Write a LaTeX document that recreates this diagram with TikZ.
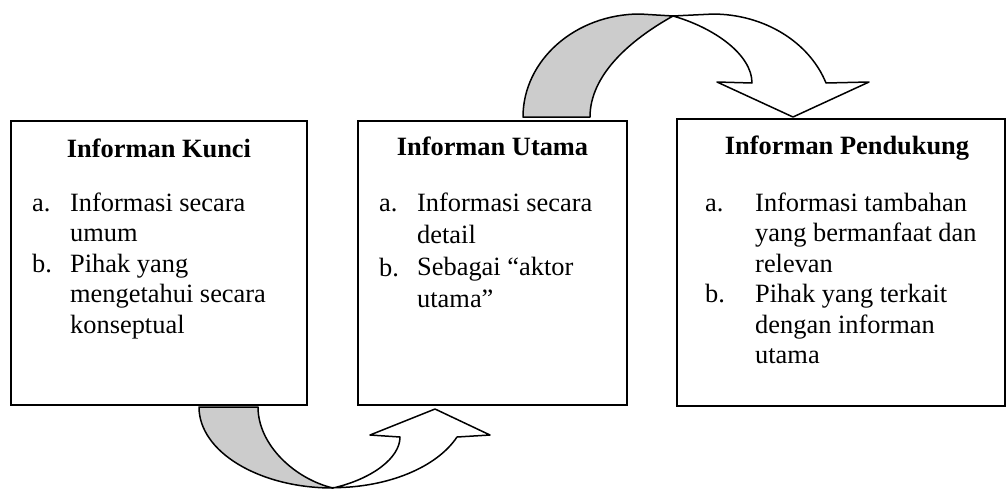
\documentclass[tikz,border=0pt]{standalone}
\usepackage{fontspec}
\setmainfont{Liberation Serif}
\definecolor{tailgray}{gray}{0.8}

\begin{document}
\begin{tikzpicture}
    [x=1pt,y=-1pt,
     box/.style={draw=black,line width=2pt,fill=white,inner sep=0pt},
     title/.style={anchor=base,inner sep=0pt,font=\fontsize{26.4}{30.5}\selectfont\bfseries},
     item/.style={anchor=base west,inner sep=0pt,font=\fontsize{26.4}{30.5}\selectfont},
     back/.style={draw=black,line width=1.5pt,line join=round,fill=tailgray},
     front/.style={draw=black,line width=1.5pt,line join=round,fill=white}]
    \useasboundingbox (0,0) rectangle (1006,488);

    % curved arrow below, from Kunci to Utama
    \draw[back] (199,407) arc[start angle=180,end angle=90,x radius=134,y radius=81]
        .. controls (295,479) and (258,445) .. (258,407) -- cycle;
    \draw[front] (333,488) .. controls (372,479) and (400,458) .. (400,437)
        -- (370,435) -- (435,409) -- (490,435) -- (457,437)
        arc[start angle=22,end angle=90,x radius=134,y radius=81] -- cycle;

    % curved arrow above, from Utama to Pendukung
    \draw[back] (523,117) arc[start angle=180,end angle=270,x radius=117,y radius=103]
        -- (673,16) .. controls (630,40) and (590,75) .. (590,117) -- cycle;
    \draw[front] (673,16) .. controls (715,28) and (752,55) .. (752,83)
        -- (717,82) -- (793,117) -- (869,82) -- (826,83)
        arc[start angle=-19.3,end angle=-90,x radius=120,y radius=103] -- cycle;

    \node[box,minimum width=296pt,minimum height=284pt] (kunci) at (159,263) {};
    \node[box,minimum width=269pt,minimum height=284pt] (utama) at (492.5,263) {};
    \node[box,minimum width=328pt,minimum height=287pt] (pendukung) at (841,262.5) {};

    \node[title] (tkunci) at (159,157) {Informan Kunci};
    \node[title] (tutama) at (492.5,155) {Informan Utama};
    \node[title] (tpendukung) at (847,154) {Informan Pendukung};

    \node[item] (kunci-a) at (32,211) {a.};
    \node[item] (kunci-b) at (32,272) {b.};
    \foreach \txt [count=\i] in {Informasi secara, umum, Pihak yang, mengetahui secara, konseptual}
        \node[item] (kunci-\i) at (70,{211+30.5*(\i-1)}) {\txt};

    \node[item] (utama-a) at (379,211) {a.};
    \node[item] (utama-b) at (379,276) {b.};
    \foreach \txt [count=\i] in {Informasi secara, detail, Sebagai “aktor, utama”}
        \node[item] (utama-\i) at (417,{211+32.3*(\i-1)}) {\txt};

    \node[item] (pendukung-a) at (705,211.5) {a.};
    \node[item] (pendukung-b) at (705,302.7) {b.};
    \foreach \txt [count=\i] in {Informasi tambahan, yang bermanfaat dan, relevan, Pihak yang terkait, dengan informan, utama}
        \node[item] (pendukung-\i) at (755,{211.5+30.4*(\i-1)}) {\txt};
\end{tikzpicture}
\end{document}
